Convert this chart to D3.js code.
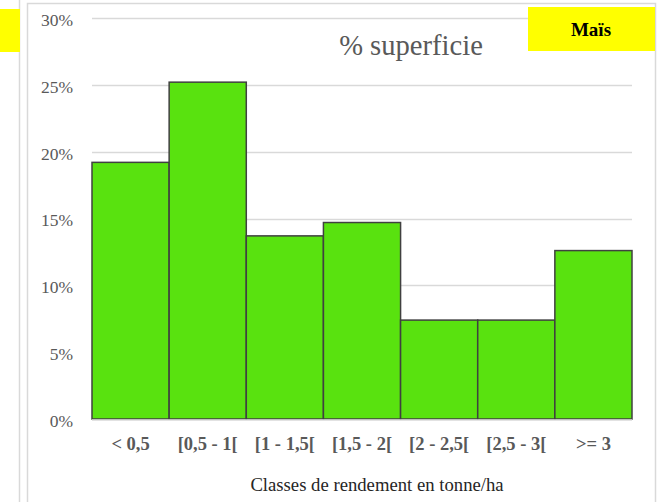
<!DOCTYPE html>
<html>
<head>
<meta charset="utf-8">
<script src="https://cdn.jsdelivr.net/npm/d3@7"></script>
<style>
  html, body { margin: 0; padding: 0; background: #fff; }
  svg { display: block; }
  svg text { font-family: "Liberation Serif", "Times New Roman", serif; }
</style>
</head>
<body>
<script>
// Yield classes (tonne/ha) and share of cultivated area per class (%)
const categories = ["< 0,5", "[0,5 - 1[", "[1 - 1,5[", "[1,5 - 2[", "[2 - 2,5[", "[2,5 - 3[", ">= 3"];
const shares = [19.2, 25.2, 13.7, 14.7, 7.4, 7.4, 12.6];
const yTicks = [0, 5, 10, 15, 20, 25, 30];

const W = 664, H = 502;
const plot = { left: 92, right: 632, top: 18, bottom: 419 };
const SERIF = "'Liberation Serif', 'Times New Roman', serif";

const svg = d3.select("body").append("svg")
  .attr("width", W).attr("height", H);

// neighbouring panel edge with its yellow tag
svg.append("line").attr("x1", 19.5).attr("x2", 19.5).attr("y1", 0).attr("y2", H)
  .attr("stroke", "#d9d9d9").attr("stroke-width", 1.5);
svg.append("rect").attr("x", 0).attr("y", 9).attr("width", 20).attr("height", 43)
  .attr("fill", "#ffff00");

// chart frame
svg.append("rect").attr("x", 27.5).attr("y", 3.5).attr("width", 628).attr("height", H + 10)
  .attr("fill", "#fff").attr("stroke", "#d9d9d9").attr("stroke-width", 1.5);

const x = d3.scaleBand().domain(categories).range([plot.left, plot.right]).padding(0);
const y = d3.scaleLinear().domain([0, 30]).range([plot.bottom, plot.top]);

// horizontal gridlines
svg.append("g")
  .selectAll("line").data(yTicks.filter(d => d > 0)).join("line")
  .attr("x1", plot.left).attr("x2", plot.right)
  .attr("y1", d => Math.round(y(d)) + 0.5).attr("y2", d => Math.round(y(d)) + 0.5)
  .attr("stroke", "#d9d9d9").attr("stroke-width", 1.3);

// y axis labels
const yAxis = d3.axisLeft(y).tickValues(yTicks).tickFormat(d => d + "%").tickSize(0).tickPadding(0);
const gy = svg.append("g").attr("transform", `translate(${plot.left - 19},0)`).call(yAxis);
gy.select(".domain").remove();
gy.attr("font-family", null).attr("font-size", null);
gy.selectAll("text")
  .attr("dy", "0.42em")
  .style("font-family", SERIF)
  .style("font-size", "17.5px").attr("fill", "#595959");

// bars
svg.append("g")
  .selectAll("rect").data(categories).join("rect")
  .attr("x", d => x(d))
  .attr("y", (d, i) => y(shares[i]))
  .attr("width", x.bandwidth())
  .attr("height", (d, i) => y(0) - y(shares[i]))
  .attr("fill", "#59e20f")
  .attr("stroke", "#404040").attr("stroke-width", 1.5);

// baseline
svg.append("line").attr("x1", plot.left).attr("x2", plot.right)
  .attr("y1", plot.bottom + 1).attr("y2", plot.bottom + 1)
  .attr("stroke", "#d9d9d9").attr("stroke-width", 1.5);

// x axis labels
const xAxis = d3.axisBottom(x).tickSize(0).tickPadding(0);
const gx = svg.append("g").attr("transform", `translate(0,${plot.bottom + 18})`).call(xAxis);
gx.select(".domain").remove();
gx.attr("font-family", null).attr("font-size", null);
gx.selectAll("text")
  .style("font-family", SERIF)
  .style("font-size", "18.5px").style("font-weight", "bold").attr("fill", "#595959");

// axis title
svg.append("text").attr("x", 377).attr("y", 491).attr("text-anchor", "middle")
  .style("font-family", SERIF)
  .style("font-size", "18.7px").attr("fill", "#262626")
  .text("Classes de rendement en tonne/ha");

// chart title
svg.append("text").attr("x", 411).attr("y", 55).attr("text-anchor", "middle")
  .style("font-family", SERIF)
  .style("font-size", "28.6px").attr("fill", "#595959")
  .text("% superficie");

// crop tag
svg.append("rect").attr("x", 528).attr("y", 7).attr("width", 127).attr("height", 44)
  .attr("fill", "#ffff00");
svg.append("text").attr("x", 591).attr("y", 36).attr("text-anchor", "middle")
  .style("font-family", SERIF)
  .style("font-size", "19px").style("font-weight", "bold").attr("fill", "#000")
  .text("Maïs");
</script>
</body>
</html>
